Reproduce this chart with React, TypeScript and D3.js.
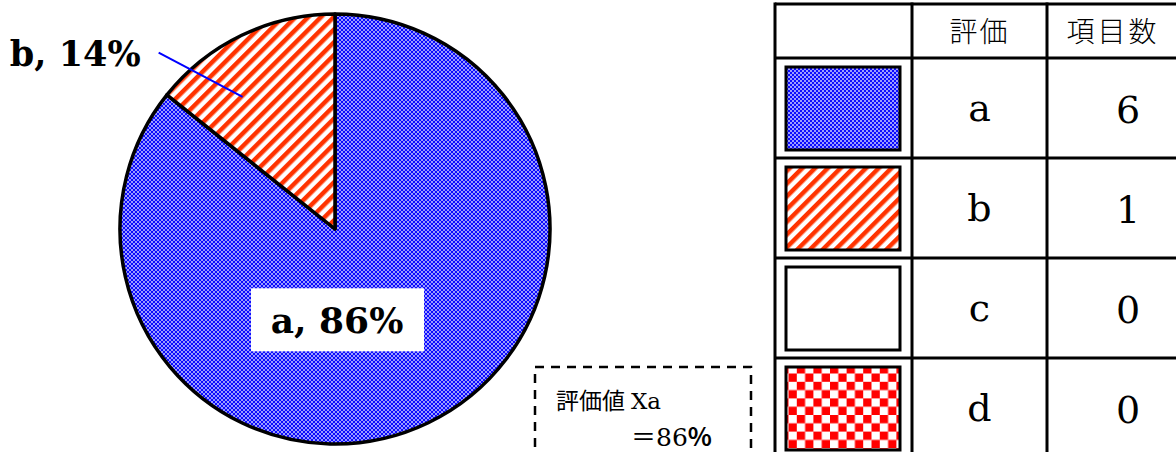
import * as d3 from "d3";

const categories = ["a", "b", "c", "d"];
const counts = [6, 1, 0, 0];
const headers = ["評価", "項目数"];
const resultLabel = "評価値";
const resultName = "Xa";

const width = 1176;
const height = 452;
const cx = 335;
const cy = 229;
const radius = 215;

const fills = ["url(#pat-a)", "url(#pat-b)", "#ffffff", "url(#pat-d)"];

const serif = "'DejaVu Serif', 'Liberation Serif', serif";
const gothic = "'Noto Sans CJK JP', 'Noto Sans', sans-serif";

export default function App() {
  const total = d3.sum(counts);
  const pct = counts.map((c) => Math.round((c / total) * 100));

  const pie = d3.pie<number>().sort(null).value((d) => d);
  const arcs = pie(counts);
  const arc = d3.arc<d3.PieArcDatum<number>>().innerRadius(0).outerRadius(radius);

  const polar = (angle: number, r: number): [number, number] => [
    cx + r * Math.sin(angle),
    cy - r * Math.cos(angle),
  ];

  // label a: white box under the centre
  const aLabelY = cy + radius * 0.42;

  // label b: leader from outside into the slice
  const b = arcs[1];
  const bInner = polar(b.startAngle + 0.32 * (b.endAngle - b.startAngle), radius * 0.75);
  const bOuter = polar(-Math.PI / 4, radius * 1.16);

  // table layout
  const colX = [775, 912, 1047, 1210];
  const rowY = d3.range(categories.length + 1).map((i) => (i === 0 ? 4 : 58 + (i - 1) * 100));
  rowY.push(58 + categories.length * 100);
  const cellCenter = (i: number) => (colX[i] + colX[i + 1]) / 2;

  return (
    <svg
      width={width}
      height={height}
      style={{ position: "absolute", left: 0, top: 0, background: "#fff" }}
    >
      <defs>
        <pattern id="pat-a" width={4} height={4} patternUnits="userSpaceOnUse">
          <rect width={4} height={4} fill="#0c0cff" />
          <rect width={2} height={2} fill="#9c9cff" />
          <rect x={2} y={2} width={2} height={2} fill="#9c9cff" />
        </pattern>
        <pattern
          id="pat-b"
          width={9}
          height={9}
          patternUnits="userSpaceOnUse"
          patternTransform="rotate(45)"
        >
          <rect width={9} height={9} fill="#ffffff" />
          <rect width={4.5} height={9} fill="#ff3300" />
        </pattern>
        <pattern id="pat-d" width={16.6} height={16.6} patternUnits="userSpaceOnUse">
          <rect width={16.6} height={16.6} fill="#ffffff" />
          <rect width={8.3} height={8.3} fill="#ff0000" />
          <rect x={8.3} y={8.3} width={8.3} height={8.3} fill="#ff0000" />
        </pattern>
      </defs>

      {/* pie */}
      <g transform={`translate(${cx},${cy})`}>
        {arcs.map((d, i) =>
          d.endAngle - d.startAngle > 0 ? (
            <path
              key={i}
              d={arc(d) ?? undefined}
              fill={fills[i]}
              stroke="#000"
              strokeWidth={3.5}
              strokeLinejoin="round"
            />
          ) : null
        )}
      </g>

      {/* label a */}
      <rect x={cx - 84} y={aLabelY - 31} width={173} height={63} fill="#fff" />
      <text
        x={cx + 2}
        y={aLabelY + 14}
        textAnchor="middle"
        fontFamily={serif}
        fontWeight="bold"
        fontSize={36}
      >
        {`${categories[0]}, ${pct[0]}%`}
      </text>

      {/* label b */}
      <line
        x1={bOuter[0]}
        y1={bOuter[1]}
        x2={bInner[0]}
        y2={bInner[1]}
        stroke="#0000ff"
        strokeWidth={2}
      />
      <text
        x={bOuter[0] - 18}
        y={bOuter[1] + 13}
        textAnchor="end"
        fontFamily={serif}
        fontWeight="bold"
        fontSize={35}
      >
        {`${categories[1]}, ${pct[1]}%`}
      </text>

      {/* result box */}
      <rect
        x={535}
        y={367}
        width={216}
        height={120}
        fill="none"
        stroke="#000"
        strokeWidth={2.5}
        strokeDasharray="9 7"
      />
      <text x={556} y={409} fontSize={23}>
        <tspan fontFamily={gothic}>{resultLabel}</tspan>
        <tspan fontFamily={serif} dx={6}>{resultName}</tspan>
      </text>
      <text x={631} y={446} fontSize={25}>
        <tspan fontFamily={gothic}>＝</tspan>
        <tspan fontFamily={serif}>{pct[0]}</tspan>
        <tspan fontFamily={gothic} fontWeight="bold">%</tspan>
      </text>

      {/* table */}
      <g>
        {headers.map((h, i) => (
          <text
            key={h}
            x={i === 0 ? cellCenter(1) : 1113}
            y={42}
            textAnchor="middle"
            fontFamily={gothic}
            fontWeight={300}
            fontSize={28}
            letterSpacing={i === 1 ? 3 : 2}
          >
            {h}
          </text>
        ))}
        {categories.map((c, i) => {
          const top = rowY[i + 1];
          const mid = top + 50;
          return (
            <g key={c}>
              <rect
                x={786}
                y={top + 9}
                width={114}
                height={83}
                fill={fills[i]}
                stroke="#000"
                strokeWidth={3}
              />
              <text
                x={cellCenter(1)}
                y={mid + 13}
                textAnchor="middle"
                fontFamily={serif}
                fontSize={38}
              >
                {c}
              </text>
              <text
                x={1128}
                y={mid + 15}
                textAnchor="middle"
                fontFamily={serif}
                fontSize={38}
              >
                {counts[i]}
              </text>
            </g>
          );
        })}
        {rowY.map((y, i) => (
          <line key={`h${i}`} x1={colX[0]} x2={width} y1={y} y2={y} stroke="#000" strokeWidth={3} />
        ))}
        {colX.slice(0, 3).map((x, i) => (
          <line key={`v${i}`} x1={x} x2={x} y1={rowY[0] - 1.5} y2={height} stroke="#000" strokeWidth={3} />
        ))}
      </g>
    </svg>
  );
}
